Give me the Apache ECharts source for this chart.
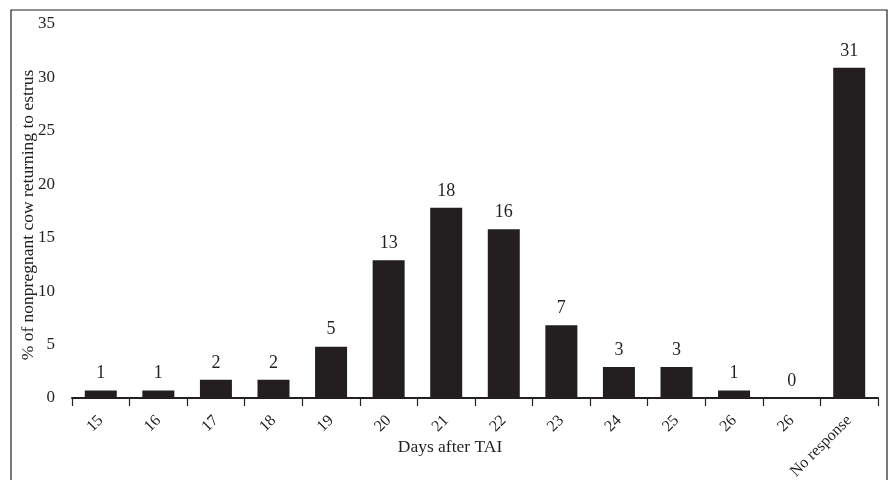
<!DOCTYPE html>
<html><head><meta charset="utf-8">
<script src="https://cdn.jsdelivr.net/npm/echarts@6/dist/echarts.min.js"></script>
<style>html,body{margin:0;padding:0;background:#fff}#c{width:889px;height:480px}</style>
</head><body><div id="c"></div>
<script>
const categories = ['15','16','17','18','19','20','21','22','23','24','25','26','26','No response'];
const values = [0.7, 0.7, 1.7, 1.7, 4.8, 12.9, 17.8, 15.8, 6.8, 2.9, 2.9, 0.7, 0, 30.9];
const valueLabels = ['1','1','2','2','5','13','18','16','7','3','3','1','0','31'];
const yTicks = {min: 0, max: 35, interval: 5};
const xTitle = 'Days after TAI';
const yTitle = '% of nonpregnant cow returning to estrus';

const ink = '#231f20';
const font = '"Liberation Serif", "DejaVu Serif", serif';
const chart = echarts.init(document.getElementById('c'), null, {renderer: 'canvas'});
chart.setOption({
  animation: false,
  backgroundColor: '#fff',
  grid: {left: 72, right: 11, top: 24, bottom: 82, containLabel: false, outerBoundsMode: 'none'},
  graphic: [{
    type: 'rect', shape: {x: 11, y: 10, width: 876, height: 520},
    style: {fill: 'none', stroke: ink, lineWidth: 1.2}, silent: true
  }],
  xAxis: {
    type: 'category', data: categories,
    axisLine: {lineStyle: {color: ink, width: 2}},
    axisTick: {show: true, length: 8, lineStyle: {color: ink, width: 1.2}, alignWithLabel: false},
    axisLabel: {rotate: 45, color: ink, fontFamily: font, fontSize: 16, margin: 20, interval: 0},
    name: xTitle, nameLocation: 'middle', nameGap: 40, nameMoveOverlap: false,
    nameTextStyle: {color: ink, fontFamily: font, fontSize: 17.5, padding: [0, 50, 0, 0]}
  },
  yAxis: {
    type: 'value', min: yTicks.min, max: yTicks.max, interval: yTicks.interval,
    axisLine: {show: false}, axisTick: {show: false}, splitLine: {show: false},
    axisLabel: {color: ink, fontFamily: font, fontSize: 17, margin: 17},
    name: yTitle, nameLocation: 'middle', nameGap: 35, nameMoveOverlap: false,
    nameTextStyle: {color: ink, fontFamily: font, fontSize: 17.5, padding: [0, 8, 0, 0]}
  },
  series: [{
    type: 'bar', data: values, barWidth: 32,
    itemStyle: {color: ink},
    label: {
      show: true, position: 'top', distance: 8, color: ink, fontFamily: font, fontSize: 18,
      formatter: p => valueLabels[p.dataIndex]
    }
  }]
});
</script>
</body></html>
